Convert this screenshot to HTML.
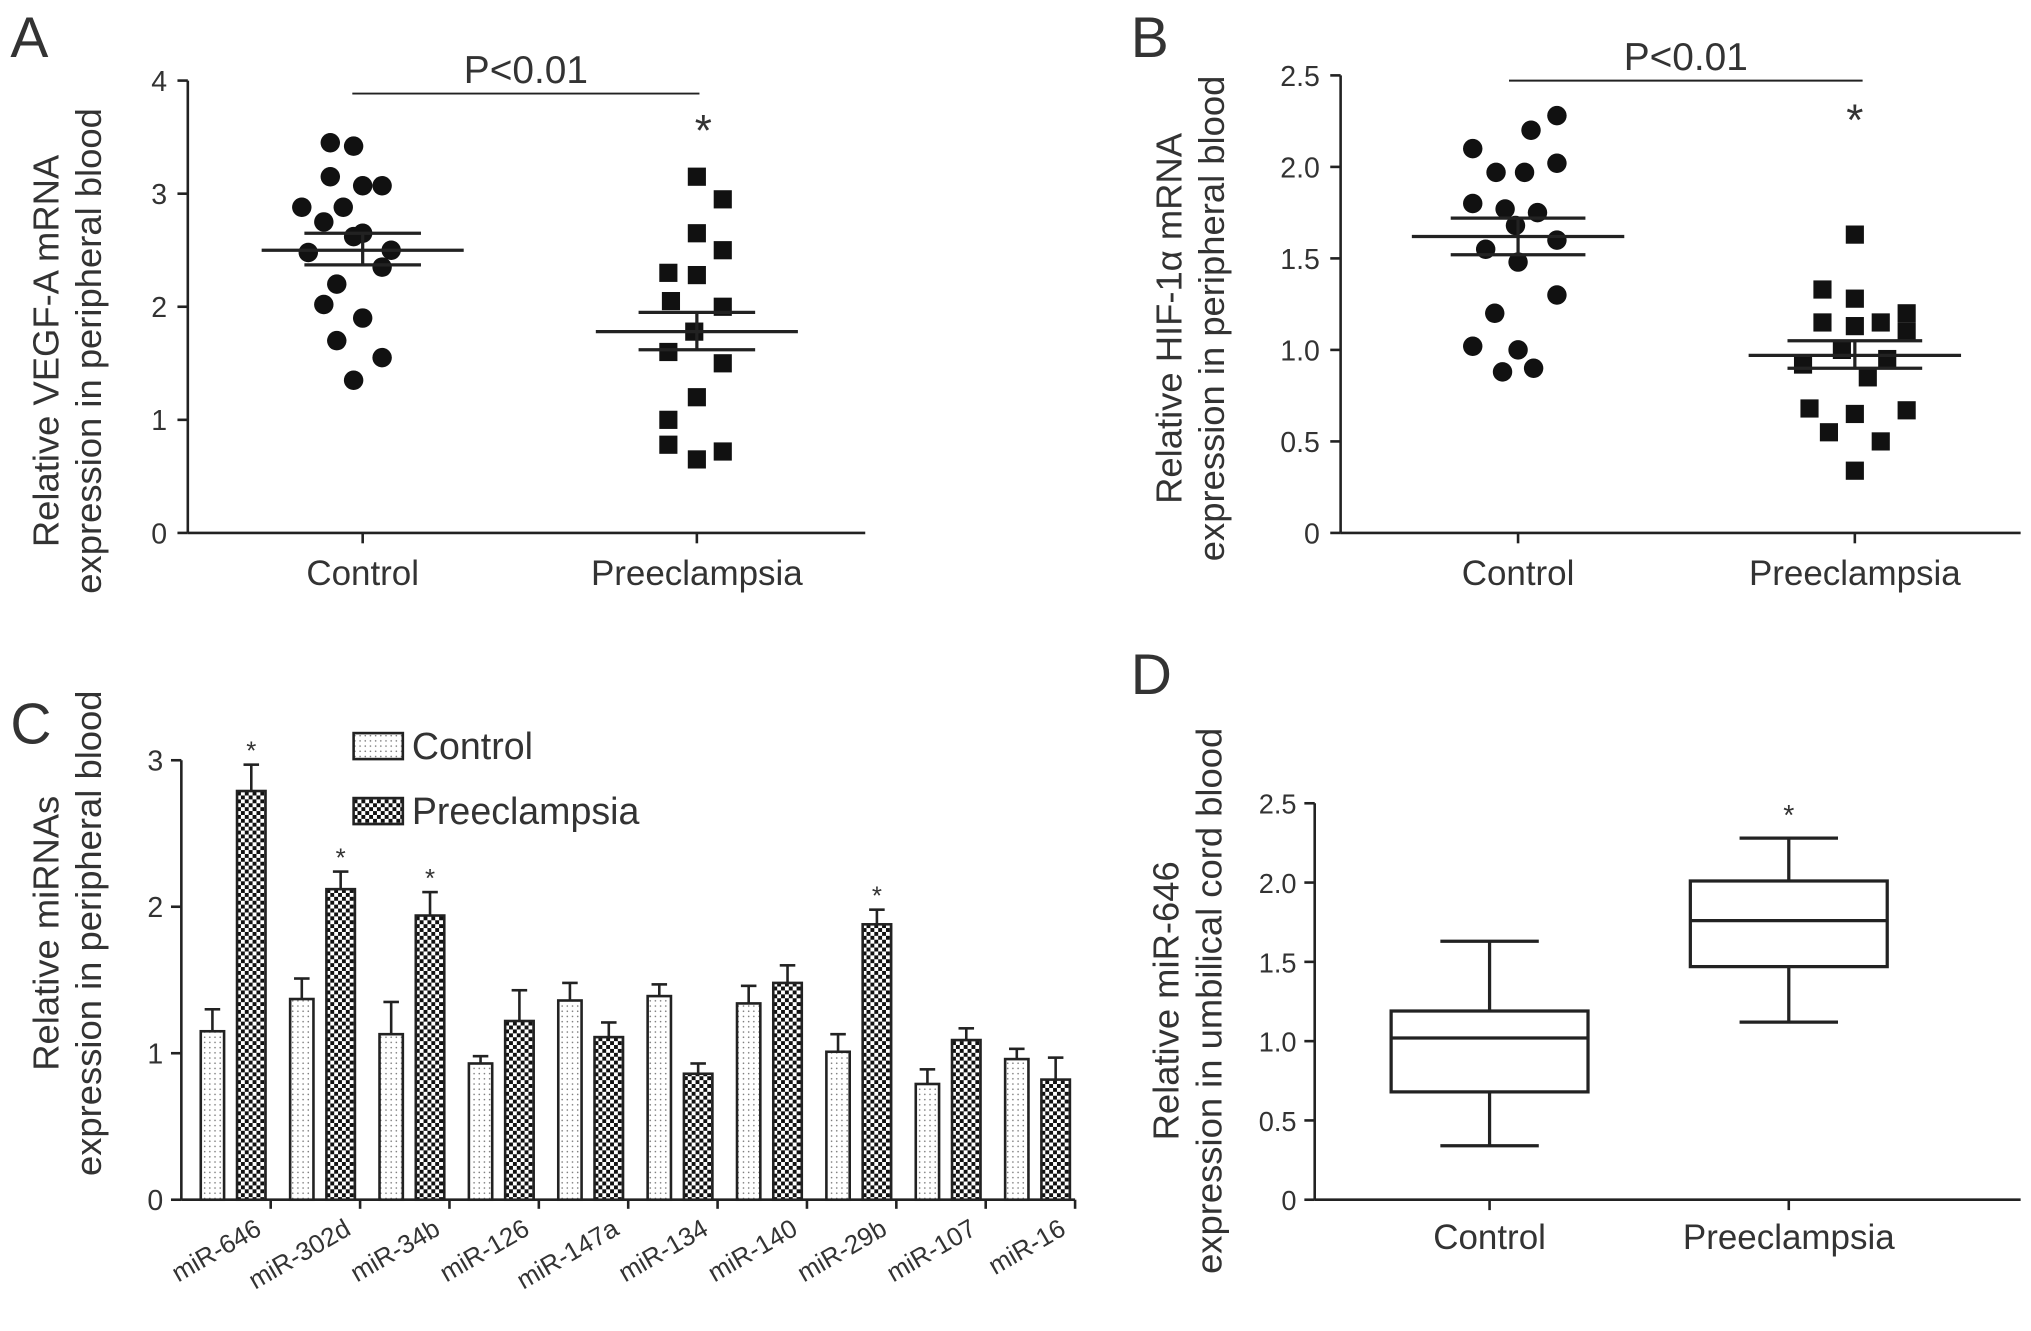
<!DOCTYPE html>
<html><head><meta charset="utf-8"><style>
html,body{margin:0;padding:0;background:#fff}
svg{display:block}
text{font-family:"Liberation Sans",sans-serif;fill:#333}
</style></head><body>
<svg width="2031" height="1331" viewBox="0 0 1568 1024" preserveAspectRatio="none" xmlns="http://www.w3.org/2000/svg">
<defs>
<pattern id="dots" width="4" height="4" patternUnits="userSpaceOnUse"><rect width="4" height="4" fill="#fff"/><circle cx="2" cy="2" r="0.6" fill="#777"/></pattern>
<pattern id="check" width="6" height="6" patternUnits="userSpaceOnUse"><rect width="6" height="6" fill="#fff"/><rect width="3" height="3" fill="#111"/><rect x="3" y="3" width="3" height="3" fill="#111"/></pattern>
</defs>
<g id="root"></g>
</svg>
<script>
// Panel A data
const aControl=[3.45,3.42,3.15,3.07,3.07,2.88,2.88,2.75,2.65,2.62,2.5,2.48,2.35,2.2,2.02,1.9,1.7,1.55,1.35];
const aControlOff=[-25,-7,-25,0,15,-47,-15,-30,0,-7,22,-42,15,-20,-30,0,-20,15,-7];
const aPre=[3.15,2.95,2.65,2.5,2.3,2.28,2.05,2.0,1.78,1.6,1.5,1.2,1.0,0.78,0.72,0.65];
const aPreOff=[0,20,0,20,-22,0,-20,20,-2,-22,20,0,-22,-22,20,0];
const aStats=[[2.5,2.65,2.37],[1.78,1.95,1.62]];
// Panel B data
const bControl=[2.28,2.2,2.1,2.02,1.97,1.97,1.8,1.77,1.75,1.68,1.6,1.55,1.48,1.3,1.2,1.02,1.0,0.9,0.88];
const bControlOff=[30,10,-35,30,-17,5,-35,-10,15,-2,30,-25,0,30,-18,-35,0,12,-12];
const bPre=[1.63,1.33,1.28,1.2,1.15,1.15,1.13,1.1,1.0,0.95,0.92,0.85,0.68,0.67,0.65,0.55,0.5,0.34];
const bPreOff=[0,-25,0,40,-25,20,0,40,-10,25,-40,10,-35,40,0,-20,20,0];
const bStats=[[1.62,1.72,1.52],[0.97,1.05,0.9]];
// Panel C data
const cCats=["miR-646","miR-302d","miR-34b","miR-126","miR-147a","miR-134","miR-140","miR-29b","miR-107","miR-16"];
const cControl=[1.15,1.37,1.13,0.93,1.36,1.39,1.34,1.01,0.79,0.96];
const cControlErr=[0.15,0.14,0.22,0.05,0.12,0.08,0.12,0.12,0.1,0.07];
const cPre=[2.79,2.12,1.94,1.22,1.11,0.86,1.48,1.88,1.09,0.82];
const cPreErr=[0.18,0.12,0.16,0.21,0.1,0.07,0.12,0.1,0.08,0.15];
const cStar=[true,true,true,false,false,false,false,true,false,false];
const cTicks=[0,1,2,3];
// Panel D data
const dBoxes=[[0.34,0.68,1.02,1.19,1.63],[1.12,1.47,1.76,2.01,2.28]];
const dTicks=["0","0.5","1.0","1.5","2.0","2.5"];
const dCats=["Control","Preeclampsia"];

const NS="http://www.w3.org/2000/svg";
const root=document.getElementById('root');
function el(tag,attrs,parent,txt){const e=document.createElementNS(NS,tag);for(const k in attrs)e.setAttribute(k,attrs[k]);if(txt!==undefined)e.textContent=txt;(parent||root).appendChild(e);return e;}
function line(x1,y1,x2,y2,w,p){return el('line',{x1,y1,x2,y2,stroke:'#222','stroke-width':w||2},p);}

function panelLetter(t,x,y){const e=el('text',{x,y,'font-size':44},root,t);

}
panelLetter('A',8,44);panelLetter('B',873,44);panelLetter('C',8,572);panelLetter('D',873,534);

function yTitle(lines,x,y,g){const t=el('text',{transform:`translate(${x},${y}) rotate(-90)`,'text-anchor':'middle','font-size':28},g);
lines.forEach((l,i)=>{el('tspan',{x:0,dy:i?33:0},t,l);});

}

function scatterPanel(name,ax,y0,pxu,xEnd,ticks,tickLbl,cx,ctl,ctlOff,pre,preOff,stats,meanW,semW,pline,starXY,titleLines,titleX,titleY){
 const g=el('g',{});
 
 
 const Y=v=>y0-v*pxu;
 line(ax,Y(ticks[ticks.length-1]),ax,y0,2,g);line(ax,y0,xEnd,y0,2,g);
 ticks.forEach((t,i)=>{line(ax-8,Y(t),ax,Y(t),2,g);el('text',{x:ax-16,y:Y(t)+8,'text-anchor':'end','font-size':22},g,tickLbl[i]);});
 cx.forEach((c,i)=>{line(c,y0,c,y0+8,2,g);const t=el('text',{x:c,y:y0+40,'text-anchor':'middle','font-size':27},g,['Control','Preeclampsia'][i]);
  
  });
 ctl.forEach((v,i)=>{const c=el('circle',{cx:cx[0]+ctlOff[i],cy:Y(v),r:7.5,fill:'#111'},g);
  
  });
 pre.forEach((v,i)=>{const r=el('rect',{x:cx[1]+preOff[i]-7,y:Y(v)-7,width:14,height:14,fill:'#111'},g);
  
  });
 stats.forEach((s,i)=>{line(cx[i]-meanW,Y(s[0]),cx[i]+meanW,Y(s[0]),2.5,g);
  line(cx[i]-semW,Y(s[1]),cx[i]+semW,Y(s[1]),2.5,g);line(cx[i]-semW,Y(s[2]),cx[i]+semW,Y(s[2]),2.5,g);
  line(cx[i],Y(s[1]),cx[i],Y(s[2]),2.5,g);});
 line(pline[0],pline[2],pline[1],pline[2],1.5,g);
 el('text',{x:(pline[0]+pline[1])/2,y:pline[2]-8,'text-anchor':'middle','font-size':30},g,'P<0.01');
 el('text',{x:starXY[0],y:starXY[1],'text-anchor':'middle','font-size':34},g,'*');
 yTitle(titleLines,titleX,titleY,g);
}
scatterPanel('panel-a-scatter',145,410,87,668,[0,1,2,3,4],['0','1','2','3','4'],[280,538],aControl,aControlOff,aPre,aPreOff,aStats,78,45,[272,540,72],[543,112],['Relative VEGF-A mRNA','expression in peripheral blood'],45,270);
scatterPanel('panel-b-scatter',1035,410,140.8,1560,[0,0.5,1,1.5,2,2.5],['0','0.5','1.0','1.5','2.0','2.5'],[1172,1432],bControl,bControlOff,bPre,bPreOff,bStats,82,52,[1165,1438,62],[1432,104],['Relative HIF-1α mRNA','expression in peripheral blood'],912,245);

// Panel C
(function(){
 const g=el('g',{});
 
 
 const ax=140,y0=923,pxu=112.7,xEnd=830,gw=69;
 const Y=v=>y0-v*pxu;
 line(ax,Y(3),ax,y0,2,g);line(ax,y0,xEnd,y0,2,g);
 cTicks.forEach(t=>{line(ax-8,Y(t),ax,Y(t),2,g);el('text',{x:ax-14,y:Y(t)+8,'text-anchor':'end','font-size':22},g,String(t));});
 cCats.forEach((c,i)=>{
  const gx=ax+i*gw;
  const cxC=gx+24, cxP=gx+54;
  [[cxC,cControl[i],cControlErr[i],18,'url(#dots)','control'],[cxP,cPre[i],cPreErr[i],22,'url(#check)','preeclampsia']].forEach(b=>{
   line(b[0],Y(b[1]+b[2]),b[0],Y(b[1]),2,g);line(b[0]-6,Y(b[1]+b[2]),b[0]+6,Y(b[1]+b[2]),2,g);
   const r=el('rect',{x:b[0]-b[3]/2,y:Y(b[1]),width:b[3],height:b[1]*pxu,fill:b[4],stroke:'#222','stroke-width':2},g);
   
   
  });
  if(cStar[i])el('text',{x:cxP,y:Y(cPre[i]+cPreErr[i])-4,'text-anchor':'middle','font-size':20},g,'*');
  line(gx+gw,y0,gx+gw,y0+7,2,g);
  const t=el('text',{transform:`translate(${gx+gw-6},${y0+26}) rotate(-30)`,'text-anchor':'end','font-size':20},g,c);
  
  
 });
 [['url(#dots)','Control',576],['url(#check)','Preeclampsia',626]].forEach(l=>{
  const lg=el('g',{},g);
  
  
  el('rect',{x:273,y:l[2]-12,width:38,height:20,fill:l[0],stroke:'#222','stroke-width':2},lg);
  el('text',{x:318,y:l[2]+8,'font-size':29},lg,l[1]);
 });
 yTitle(['Relative miRNAs','expression in peripheral blood'],45,718,g);
})();

// Panel D
(function(){
 const g=el('g',{});
 
 
 const ax=1015,y0=923,pxu=122,xEnd=1560;
 const Y=v=>y0-v*pxu;
 line(ax,Y(2.5),ax,y0,2,g);line(ax,y0,xEnd,y0,2,g);
 dTicks.forEach(t=>{const v=parseFloat(t);line(ax-8,Y(v),ax,Y(v),2,g);el('text',{x:ax-14,y:Y(v)+8,'text-anchor':'end','font-size':21},g,t);});
 const cx=[1150,1381];
 dBoxes.forEach((b,i)=>{
  const bg=el('g',{},g);
  
  
  const c=cx[i];
  line(c,Y(b[4]),c,Y(b[3]),2.5,bg);line(c,Y(b[1]),c,Y(b[0]),2.5,bg);
  line(c-38,Y(b[4]),c+38,Y(b[4]),2.5,bg);line(c-38,Y(b[0]),c+38,Y(b[0]),2.5,bg);
  el('rect',{x:c-76,y:Y(b[3]),width:152,height:(b[3]-b[1])*pxu,fill:'none',stroke:'#222','stroke-width':2.5},bg);
  line(c-76,Y(b[2]),c+76,Y(b[2]),2.5,bg);
  line(c,y0,c,y0+8,2,g);
  el('text',{x:c,y:y0+38,'text-anchor':'middle','font-size':27},g,dCats[i]);
 });
 el('text',{x:cx[1],y:Y(2.28)-10,'text-anchor':'middle','font-size':22},g,'*');
 yTitle(['Relative miR-646','expression in umbilical cord blood'],910,770,g);
})();
</script>
</body></html>
